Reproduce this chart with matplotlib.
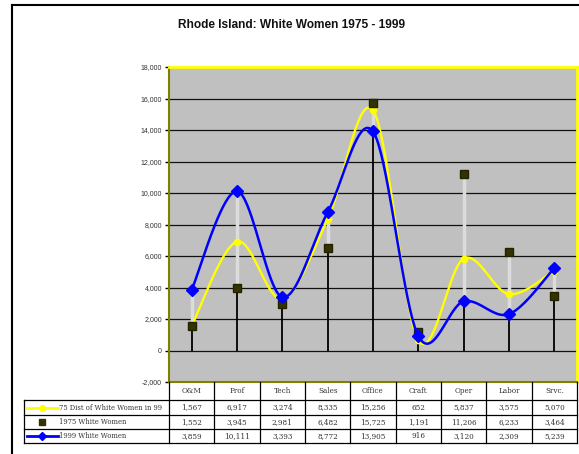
import numpy as np
import matplotlib
matplotlib.use("Agg")
import matplotlib.pyplot as plt

categories = ["O&M", "Prof", "Tech", "Sales", "Office", "Craft", "Oper", "Labor", "Srvc."]
dist75 = [1567, 6917, 3274, 8335, 15256, 652, 5837, 3575, 5070]
women1975 = [1552, 3945, 2981, 6482, 15725, 1191, 11206, 6233, 3464]
women1999 = [3859, 10111, 3393, 8772, 13905, 916, 3120, 2309, 5239]
series_names = ["75 Dist of White Women in 99", "1975 White Women", "1999 White Women"]
yticks = list(range(-2000, 18001, 2000))

W, H = 579, 454
fig = plt.figure(figsize=(W / 100, H / 100), dpi=100)
fig.patch.set_facecolor("white")

# plot area in pixels
PL, PR, PT, PB = 169, 577, 67, 382
ax = fig.add_axes([PL / W, 1 - PB / H, (PR - PL) / W, (PB - PT) / H])
ax.set_facecolor("#C0C0C0")
ax.set_xlim(-0.5, len(categories) - 0.5)
ax.set_ylim(-2000, 18000)

for v in yticks[1:-1]:
    ax.axhline(v, color="#111111", lw=0.9, zorder=1)

x = np.arange(len(categories))


def smooth(xs, ys, n=40):
    xs = np.asarray(xs, float)
    ys = np.asarray(ys, float)
    P = np.column_stack([xs, ys])
    Pext = np.vstack([P[0], P, P[-1]])
    out = []
    t = np.linspace(0, 1, n)
    for i in range(len(P) - 1):
        p0, p1, p2, p3 = Pext[i], Pext[i + 1], Pext[i + 2], Pext[i + 3]
        c1 = p1 + (p2 - p0) / 6.0
        c2 = p2 - (p3 - p1) / 6.0
        seg = ((1 - t) ** 3)[:, None] * p1 + (3 * (1 - t) ** 2 * t)[:, None] * c1 \
            + (3 * (1 - t) * t ** 2)[:, None] * c2 + (t ** 3)[:, None] * p2
        out.append(seg if i == 0 else seg[1:])
    out = np.vstack(out)
    return out[:, 0], out[:, 1]


allv = np.array([dist75, women1975, women1999])
hi = allv.max(axis=0)
lo = allv.min(axis=0)
# drop lines
ax.vlines(x, 0, hi, color="black", lw=1.3, zorder=2)
# high-low lines
ax.vlines(x, lo, hi, color="#DCDCDC", lw=2.5, zorder=3)

sx, sy = smooth(x, dist75)
ax.plot(sx, sy, color="#FFFF00", lw=1.7, zorder=4)
ax.plot(x, dist75, "o", color="#FFFF00", ms=4.5, zorder=5)
ax.plot(x, women1975, "s", color="#333300", mec="#222200", ms=5.5, zorder=6)
sx, sy = smooth(x, women1999)
ax.plot(sx, sy, color="#0000FF", lw=1.8, zorder=7)
ax.plot(x, women1999, "D", color="#0000FF", ms=6.5, zorder=8)

ax.set_xticks([])
ax.set_yticks(yticks)
ax.set_yticklabels([f"{v:,}" for v in yticks], fontsize=5, color="#333333",
                   family="Liberation Sans")
ax.tick_params(axis="y", length=3, width=1, color="black", pad=2)
ax.spines["top"].set_color("#FFFF00")
ax.spines["top"].set_linewidth(2)
ax.spines["right"].set_color("#FFFF00")
ax.spines["right"].set_linewidth(2)
ax.spines["left"].set_color("#808000")
ax.spines["left"].set_linewidth(1.5)
ax.spines["bottom"].set_color("#808000")
ax.spines["bottom"].set_linewidth(1.5)

# overlay for table, border, title
ov = fig.add_axes([0, 0, 1, 1], zorder=10)
ov.set_xlim(0, W)
ov.set_ylim(H, 0)
ov.axis("off")
ov.patch.set_alpha(0)

# outer border
ov.plot([12, 12], [5, H + 5], color="black", lw=1.5)
ov.plot([12, W + 5], [5, 5], color="black", lw=1.5)

ov.text(292, 25, "Rhode Island: White Women 1975 - 1999", ha="center", va="center",
        fontsize=8.6, fontweight="bold", family="Liberation Sans", color="#111111")

cw = (PR - PL) / len(categories)
rows = [PB, 400, 415, 429, 443]
TL = 24
tfont = dict(fontsize=5.2, family="DejaVu Serif", color="#333333")
# header row
for i in range(len(categories) + 1):
    xx = PL + i * cw
    ov.plot([xx, xx], [PB, rows[-1]], color="black", lw=0.9)
for yy in rows[1:]:
    ov.plot([TL, PR], [yy, yy], color="black", lw=0.9)
ov.plot([TL, TL], [rows[1], rows[-1]], color="black", lw=0.9)
for i, c in enumerate(categories):
    ov.text(PL + (i + 0.5) * cw, (rows[0] + rows[1]) / 2, c, ha="center", va="center", **tfont)

data_rows = [dist75, women1975, women1999]
for r, vals in enumerate(data_rows):
    yc = (rows[r + 1] + rows[r + 2]) / 2
    for i, v in enumerate(vals):
        ov.text(PL + (i + 0.5) * cw, yc, f"{v:,}", ha="center", va="center", **tfont)
    ov.text(59, yc, series_names[r], ha="left", va="center", fontsize=4.9,
            family="DejaVu Serif", color="#333333")

# legend keys
yc = (rows[1] + rows[2]) / 2
ov.plot([27, 58], [yc, yc], color="#FFFF00", lw=2)
ov.plot([42], [yc], "o", color="#FFFF00", ms=4)
yc = (rows[2] + rows[3]) / 2
ov.plot([42], [yc], "s", color="#333300", ms=4.5)
yc = (rows[3] + rows[4]) / 2
ov.plot([27, 58], [yc, yc], color="#0000FF", lw=2)
ov.plot([42], [yc], "D", color="#0000FF", ms=4)

fig.savefig("out.png", dpi=100, facecolor="white")
